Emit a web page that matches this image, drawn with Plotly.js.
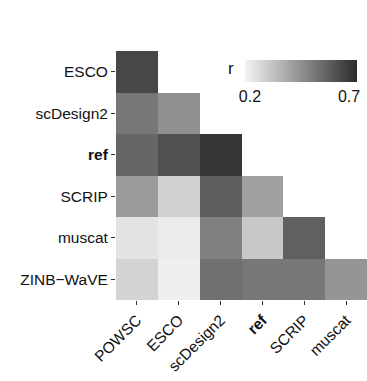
<!DOCTYPE html>
<html>
<head>
<meta charset="utf-8">
<script src="https://cdn.plot.ly/plotly-3.0.1.min.js"></script>
<style>html,body{margin:0;padding:0;background:#fff}#chart{width:367px;height:381px}</style>
</head>
<body>
<div id="chart"></div>
<script>
var columns = ["POWSC", "ESCO", "scDesign2", "ref", "SCRIP", "muscat"];
var rows = ["ESCO", "scDesign2", "ref", "SCRIP", "muscat", "ZINB-WaVE"];
// correlation r, lower triangle (null = not shown)
var rESCO      = [0.664, null,  null,  null,  null,  null];
var rScDesign2 = [0.528, 0.458, null,  null,  null,  null];
var rRef       = [0.576, 0.638, 0.712, null,  null,  null];
var rSCRIP     = [0.429, 0.277, 0.599, 0.412, null,  null];
var rMuscat    = [0.223, 0.200, 0.503, 0.299, 0.593, null];
var rZINB      = [0.268, 0.190, 0.548, 0.528, 0.526, 0.443];
var colorTicks = [0.2, 0.7];

var z = [rESCO, rScDesign2, rRef, rSCRIP, rMuscat, rZINB];
function lab(s){ return s === "ref" ? "<b>ref</b>" : s.replace("-", "\u2212"); }

var trace = {
  type: "heatmap",
  x: columns,
  y: rows,
  z: z,
  zmin: 0.175,
  zmax: 0.74,
  colorscale: [[0, "#f4f4f4"], [1, "#2c2c2c"]],
  hoverongaps: false,
  colorbar: {
    orientation: "h",
    x: 0.514, xanchor: "left", xpad: 0,
    y: 0.964, yanchor: "top", ypad: 0,
    len: 112, lenmode: "pixels",
    thickness: 22,
    outlinewidth: 0,
    tickvals: colorTicks,
    ticktext: colorTicks.map(function(v){ return v.toFixed(1); }),
    ticks: "",
    tickfont: {family: "Liberation Sans, Arial, sans-serif", size: 16, color: "#111"}
  }
};

var layout = {
  width: 367, height: 381,
  margin: {l: 116, r: 0, t: 51, b: 81},
  paper_bgcolor: "#fff", plot_bgcolor: "#fff",
  font: {family: "Liberation Sans, Arial, sans-serif", size: 15.5, color: "#111"},
  xaxis: {
    type: "category",
    tickvals: columns, ticktext: columns.map(lab),
    tickangle: -45,
    ticks: "outside", ticklen: 4, tickwidth: 1, tickcolor: "#333",
    showgrid: false, zeroline: false, showline: false,
    tickfont: {size: 15.5, color: "#111"}
  },
  yaxis: {
    type: "category",
    autorange: "reversed",
    tickvals: rows, ticktext: rows.map(lab),
    ticks: "outside", ticklen: 4, tickwidth: 1, tickcolor: "#333",
    showgrid: false, zeroline: false, showline: false,
    tickfont: {size: 15.5, color: "#111"}
  },
  annotations: [{
    text: "r", xref: "paper", yref: "paper",
    x: 0.46, y: 0.93, xanchor: "center", yanchor: "middle",
    showarrow: false,
    font: {family: "Liberation Sans, Arial, sans-serif", size: 17, color: "#111"}
  }]
};

Plotly.newPlot("chart", [trace], layout, {displayModeBar: false, staticPlot: true});
</script>
</body>
</html>
